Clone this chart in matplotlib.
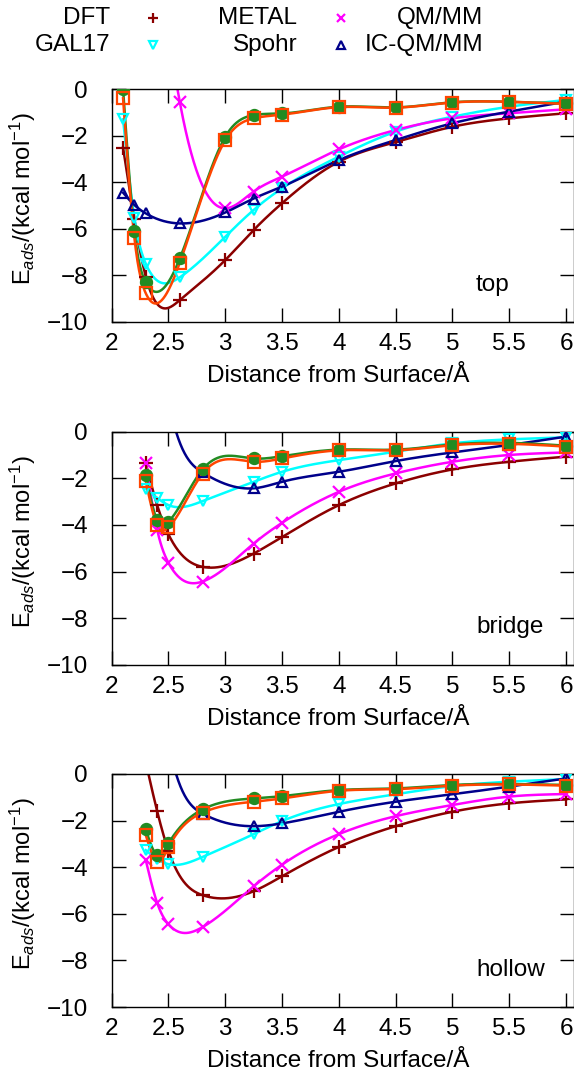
import numpy as np
import matplotlib
matplotlib.use("Agg")
import matplotlib.pyplot as plt
from matplotlib.lines import Line2D

plt.rcParams["font.family"] = ["Liberation Sans", "DejaVu Sans"]
plt.rcParams["mathtext.fontset"] = "custom"
plt.rcParams["mathtext.rm"] = "Liberation Sans"
plt.rcParams["mathtext.it"] = "Liberation Sans:italic"
plt.rcParams["font.size"] = 17.5

# ── Data ──────────────────────────────────────────────────────────────────────
x_top = [2.1, 2.2, 2.3, 2.6, 3.0, 3.25, 3.5, 4.0, 4.5, 5.0, 5.5, 6.0]
x_site = [2.3, 2.4, 2.5, 2.8, 3.25, 3.5, 4.0, 4.5, 5.0, 5.5, 6.0]

top_dft   = [-2.52, -5.6, -8.05, -9.06, -7.34, -6.05, -4.9, -3.12, -2.28, -1.62, -1.26, -1.04]
top_gal17 = [-1.3, -5.55, -7.5, -8.08, -6.34, -5.19, -4.26, -2.9, -1.83, -1.19, -0.76, -0.47]
top_metal = [None, None, 10.0, -0.57, -5.12, -4.4, -3.76, -2.59, -1.76, -1.26, -1.04, -0.87]
top_spohr = [-4.45, -4.98, -5.34, -5.77, -5.3, -4.7, -4.19, -3.05, -2.19, -1.47, -0.97, -0.54]
top_qmmm  = [0.0, -6.1, -8.3, -7.27, -2.05, -1.12, -1.05, -0.76, -0.79, -0.57, -0.55, -0.62]
top_icqm  = [-0.4, -6.4, -8.77, -7.45, -2.2, -1.26, -1.1, -0.78, -0.8, -0.58, -0.55, -0.64]

bri_dft   = [-1.36, -3.15, -4.41, -5.8, -5.23, -4.52, -3.15, -2.22, -1.62, -1.29, -1.07]
bri_gal17 = [-2.44, -2.84, -3.15, -2.98, -2.15, -1.72, -1.22, -0.86, -0.5, -0.33, -0.24]
bri_metal = [-1.33, -4.2, -5.63, -6.43, -4.8, -3.91, -2.58, -1.79, -1.29, -1.0, -0.89]
bri_spohr = [9.5, 4.5, 1.3, -1.75, -2.43, -2.15, -1.72, -1.26, -0.89, -0.57, -0.21]
bri_qmmm  = [-1.86, -3.8, -3.87, -1.62, -1.15, -1.05, -0.77, -0.77, -0.55, -0.48, -0.6]
bri_icqm  = [-2.12, -4.01, -4.11, -1.8, -1.29, -1.15, -0.8, -0.8, -0.58, -0.52, -0.64]

hol_dft   = [0.5, -1.59, -3.3, -5.2, -5.03, -4.39, -3.13, -2.24, -1.62, -1.26, -1.09]
hol_gal17 = [-3.27, -3.65, -3.87, -3.56, -2.58, -2.02, -1.29, -0.87, -0.52, -0.33, -0.22]
hol_metal = [-3.7, -5.53, -6.45, -6.57, -4.82, -3.89, -2.58, -1.81, -1.33, -0.97, -0.86]
hol_spohr = [9.5, 4.5, 1.3, -1.7, -2.24, -2.12, -1.62, -1.19, -0.87, -0.54, -0.19]
hol_qmmm  = [-2.38, -3.48, -2.98, -1.52, -1.05, -0.95, -0.69, -0.62, -0.47, -0.43, -0.47]
hol_icqm  = [-2.62, -3.77, -3.15, -1.66, -1.19, -1.05, -0.72, -0.65, -0.5, -0.45, -0.5]

labels = ["DFT", "GAL17", "METAL", "Spohr", "QM/MM", "IC-QM/MM"]
sites = ["top", "bridge", "hollow"]

# style per series: colour, marker, filled
STYLES = {
    "DFT":      ("#8b0000", "+", True),
    "GAL17":    ("#00ffff", "v", False),
    "METAL":    ("#ff00ff", "x", True),
    "Spohr":    ("#00008b", "^", False),
    "QM/MM":    ("#228b22", "o", True),
    "IC-QM/MM": ("#ff4500", "s", False),
}
MSIZE = {"+": 10, "v": 7, "x": 8, "^": 7, "o": 8, "s": 9}


def cspline(x, y, num=800):
    """Natural cubic spline through (x, y), like gnuplot 'smooth csplines'."""
    x = np.asarray(x, float)
    y = np.asarray(y, float)
    n = len(x)
    h = np.diff(x)
    A = np.zeros((n, n))
    b = np.zeros(n)
    A[0, 0] = A[-1, -1] = 1.0
    for i in range(1, n - 1):
        A[i, i - 1] = h[i - 1]
        A[i, i] = 2 * (h[i - 1] + h[i])
        A[i, i + 1] = h[i]
        b[i] = 6 * ((y[i + 1] - y[i]) / h[i] - (y[i] - y[i - 1]) / h[i - 1])
    M = np.linalg.solve(A, b)
    xs = np.linspace(x[0], x[-1], num)
    k = np.clip(np.searchsorted(x, xs) - 1, 0, n - 2)
    hh = x[k + 1] - x[k]
    t0 = x[k + 1] - xs
    t1 = xs - x[k]
    ys = ((M[k] * t0**3 + M[k + 1] * t1**3) / (6 * hh)
          + (y[k] / hh - M[k] * hh / 6) * t0
          + (y[k + 1] / hh - M[k + 1] * hh / 6) * t1)
    return xs, ys


def draw_series(ax, x, y, name):
    color, marker, filled = STYLES[name]
    pts = [(a, b) for a, b in zip(x, y) if b is not None]
    xx, yy = zip(*pts)
    xs, ys = cspline(xx, yy)
    ax.plot(xs, ys, color=color, lw=1.8, zorder=2)
    ax.plot(xx, yy, ls="none", marker=marker, ms=MSIZE[marker],
            mec=color, mfc=color if filled else "none", mew=1.6, zorder=3)


panels = [
    (x_top,  [top_dft, top_gal17, top_metal, top_spohr, top_qmmm, top_icqm]),
    (x_site, [bri_dft, bri_gal17, bri_metal, bri_spohr, bri_qmmm, bri_icqm]),
    (x_site, [hol_dft, hol_gal17, hol_metal, hol_spohr, hol_qmmm, hol_icqm]),
]

fig = plt.figure(figsize=(5.74, 10.81), dpi=100)
W, H = 574, 1081
ax_left = 111.7 / W
ax_w = 1.0 - ax_left
ax_h = 233 / H
tops_px = [89, 431.7, 774]

for (x, series), site, top_px in zip(panels, sites, tops_px):
    ax = fig.add_axes([ax_left, 1 - (top_px + 233) / H, ax_w, ax_h])
    for name, y in zip(labels, series):
        draw_series(ax, x, y, name)
    ax.set_xlim(2, 6.07)
    ax.set_ylim(-10, 0)
    ax.set_xticks([2, 2.5, 3, 3.5, 4, 4.5, 5, 5.5, 6])
    ax.set_xticklabels(["2", "2.5", "3", "3.5", "4", "4.5", "5", "5.5", "6"])
    ax.set_yticks([0, -2, -4, -6, -8, -10])
    ax.tick_params(direction="in", length=10, width=1.0, top=True, right=True,
                   labelsize=17.5)
    ax.tick_params(axis="x", pad=8)
    ax.tick_params(axis="y", pad=17)
    for sp in ax.spines.values():
        sp.set_linewidth(1.0)
    ax.set_xlabel("Distance from Surface/Å", fontsize=17.5)
    ax.xaxis.set_label_coords(0.49, -0.185)
    ax.set_ylabel(r"E$_{ads}$/(kcal mol$^{\mathregular{-1}}$)", fontsize=17,
                  va="center")
    ax.yaxis.set_label_coords(-0.193, 0.53)
    ax.text(0.788, 0.16, site, transform=ax.transAxes, fontsize=17.5,
            ha="left", va="center")

# ── key, laid out by hand like the original (last column has no samples) ─────
key_rows = [18 / H, 45 / H]
key_cols = [(110 / W, 152.7 / W), (297.5 / W, 341 / W), (483 / W, None)]
for i, name in enumerate(labels):
    col, row = divmod(i, 2)
    tx, mx = key_cols[col]
    y = 1 - key_rows[row]
    fig.text(tx, y, name, ha="right", va="center", fontsize=17.5)
    if mx is not None:
        color, marker, filled = STYLES[name]
        fig.add_artist(Line2D([mx], [y], transform=fig.transFigure, ls="none",
                              marker=marker, ms=MSIZE[marker] * 0.75, mec=color,
                              mfc=color if filled else "none", mew=1.6))

fig.savefig("out.png", dpi=100)
